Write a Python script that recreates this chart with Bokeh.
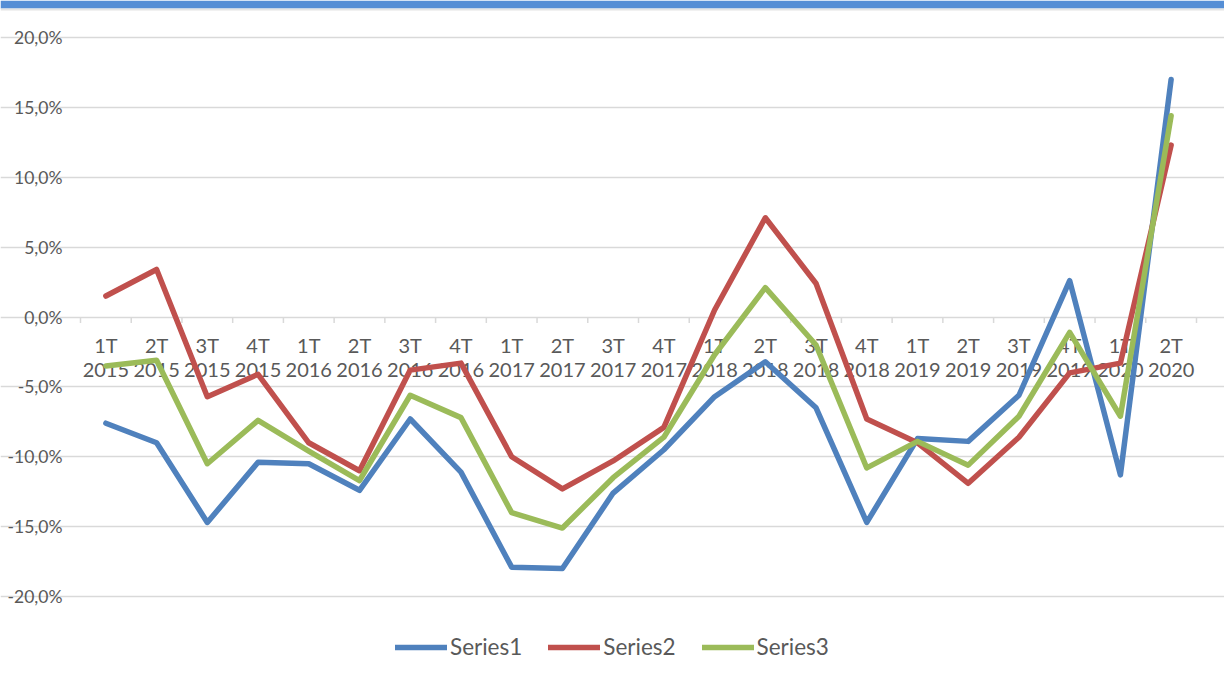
from bokeh.plotting import figure
from bokeh.models import Range1d, Legend, LegendItem, ColumnDataSource, BoxAnnotation, FixedTicker
from bokeh.core.properties import value
from bokeh.embed import file_html
from bokeh.resources import INLINE

quarters = ["1T", "2T", "3T", "4T", "1T", "2T", "3T", "4T", "1T", "2T", "3T", "4T",
            "1T", "2T", "3T", "4T", "1T", "2T", "3T", "4T", "1T", "2T"]
years = ["2015"] * 4 + ["2016"] * 4 + ["2017"] * 4 + ["2018"] * 4 + ["2019"] * 4 + ["2020"] * 2

series1 = [-7.6, -9.0, -14.7, -10.4, -10.5, -12.4, -7.3, -11.1, -17.9, -18.0, -12.6, -9.5,
           -5.7, -3.2, -6.5, -14.7, -8.7, -8.9, -5.6, 2.6, -11.3, 17.0]
series2 = [1.5, 3.4, -5.7, -4.1, -9.0, -11.0, -3.8, -3.3, -10.0, -12.3, -10.3, -7.9,
           0.5, 7.1, 2.4, -7.3, -9.0, -11.9, -8.6, -4.0, -3.3, 12.3]
series3 = [-3.5, -3.1, -10.5, -7.4, -9.6, -11.7, -5.6, -7.2, -14.0, -15.1, -11.5, -8.6,
           -2.7, 2.1, -2.0, -10.8, -8.9, -10.6, -7.1, -1.1, -7.1, 14.4]
series_names = ["Series1", "Series2", "Series3"]
series_colors = ["#4F81BD", "#C0504D", "#9BBB59"]

yticks = [-20, -15, -10, -5, 0, 5, 10, 15, 20]
ytick_labels = ["-20,0%", "-15,0%", "-10,0%", "-5,0%", "0,0%", "5,0%", "10,0%", "15,0%", "20,0%"]

FONT = "Lato"
TEXT_COLOR = "#595959"
GRID_COLOR = "#d9d9d9"

# layout (pixels inside the figure)
FIG_W, FIG_H = 1224, 681
LEFT_GAP, RIGHT_GAP = 80, 28
TOP_GAP, BOTTOM_GAP = 37, 85
n = len(quarters)
cat_w = (FIG_W - LEFT_GAP - RIGHT_GAP) / n
scale = (FIG_H - TOP_GAP - BOTTOM_GAP) / (yticks[-1] - yticks[0])
x_lo, x_hi = -LEFT_GAP / cat_w, n + RIGHT_GAP / cat_w
y_lo, y_hi = yticks[0] - BOTTOM_GAP / scale, yticks[-1] + TOP_GAP / scale

xs = [i + 0.5 for i in range(n)]
bounds = list(range(n + 1))

p = figure(width=FIG_W, height=FIG_H, output_backend="svg", toolbar_location=None,
           x_range=Range1d(x_lo, x_hi), y_range=Range1d(y_lo, y_hi),
           min_border=0)
p.outline_line_color = None
p.background_fill_color = "white"
p.border_fill_color = "white"
p.axis.visible = False
p.xgrid.visible = False

p.ygrid.ticker = FixedTicker(ticks=yticks)
p.ygrid.bounds = (0, n)
p.ygrid.grid_line_color = GRID_COLOR
p.ygrid.grid_line_width = 1.5

# top accent bar
p.add_layout(BoxAnnotation(bottom=y_hi - 8 / scale, fill_color="#558ED5", fill_alpha=1,
                           line_color=None))
p.add_layout(BoxAnnotation(bottom=y_hi - 10 / scale, top=y_hi - 8 / scale,
                           fill_color="#e4e4e4", fill_alpha=1, line_color=None))

# y tick labels
p.text(x=[0] * len(yticks), y=yticks, text=ytick_labels, x_offset=-18,
       text_align="right", text_baseline="middle", text_font=value(FONT),
       text_font_size="17.5px", text_color=TEXT_COLOR)

# category tick marks on the zero line
p.ray(x=bounds, y=[0] * len(bounds), length=6, length_units="screen", angle=-90,
      angle_units="deg", line_color=GRID_COLOR, line_width=1.5)

# category labels beneath the zero line
lab_src = ColumnDataSource(dict(x=xs, y=[0] * n, q=quarters, yr=years))
p.text(x="x", y="y", text="q", source=lab_src, y_offset=28, text_align="center",
       text_baseline="middle", text_font=value(FONT), text_font_size="20px",
       text_color=TEXT_COLOR)
p.text(x="x", y="y", text="yr", source=lab_src, y_offset=53, text_align="center",
       text_baseline="middle", text_font=value(FONT), text_font_size="20px",
       text_color=TEXT_COLOR)

items = []
for name, ys, col in zip(series_names, [series1, series2, series3], series_colors):
    r = p.line(xs, ys, line_color=col, line_width=5.5, line_join="round", line_cap="round")
    items.append(LegendItem(label=name, renderers=[r]))

legend = Legend(items=items, orientation="horizontal", location=(395, 21),
                glyph_width=52, glyph_height=24, label_height=24, label_standoff=3,
                spacing=26, padding=0, margin=0, border_line_color=None,
                background_fill_alpha=0, label_text_font=FONT,
                label_text_font_size="22.5px", label_text_color=TEXT_COLOR)
p.add_layout(legend, "center")

open("out.html", "w").write(file_html(p, INLINE))
